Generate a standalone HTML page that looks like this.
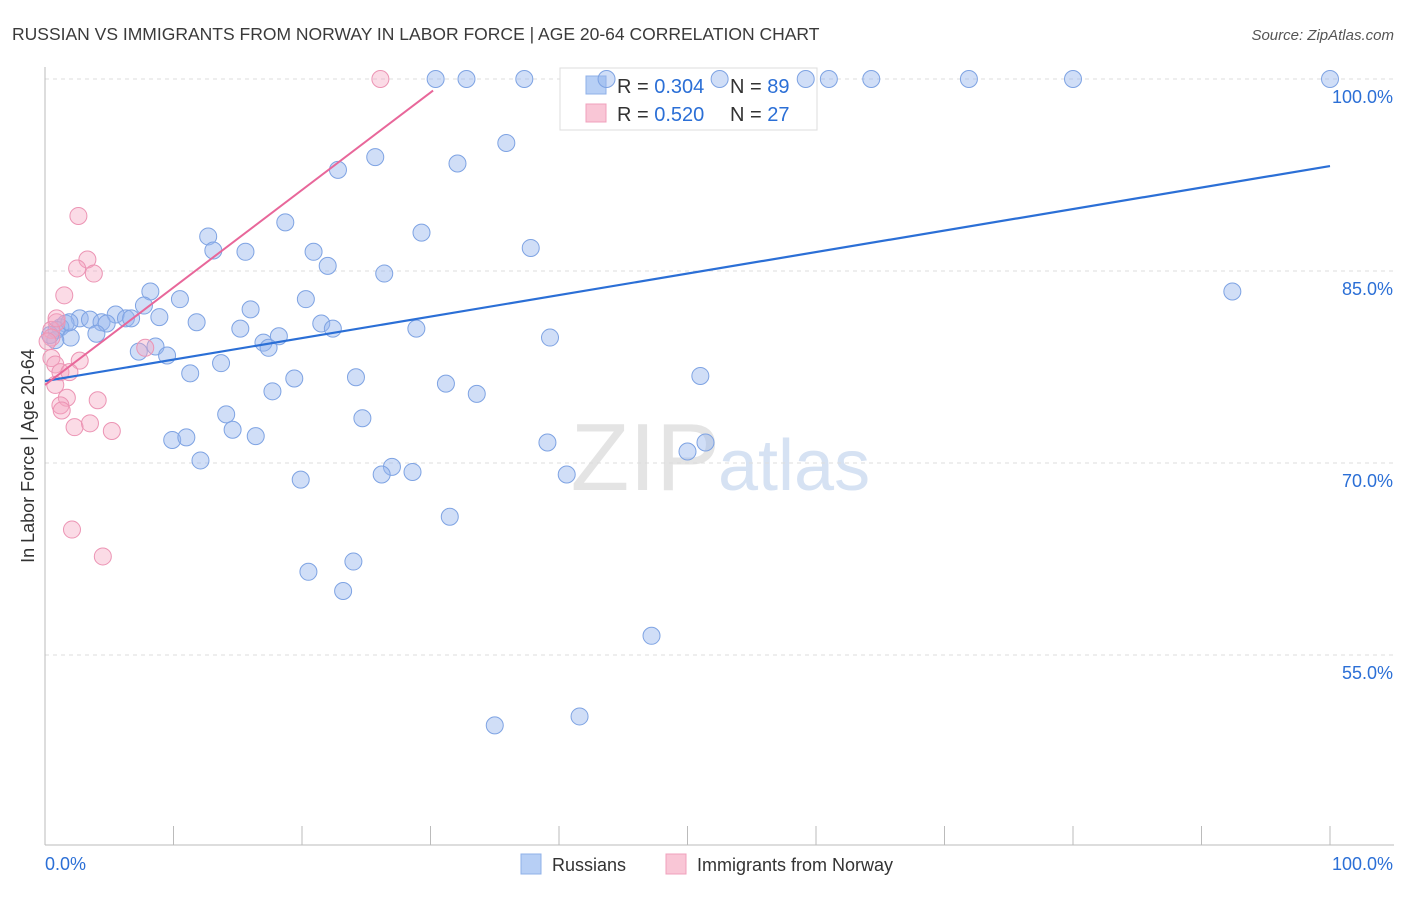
<!DOCTYPE html>
<html><head><meta charset="utf-8"><style>
body{margin:0;background:#fff;font-family:"Liberation Sans",sans-serif;}
svg text{font-family:"Liberation Sans",sans-serif;}
</style></head><body>
<svg id="c" width="1406" height="892" xmlns="http://www.w3.org/2000/svg">
<text x="12" y="40" font-size="17.5" fill="#3a3a3a">RUSSIAN VS IMMIGRANTS FROM NORWAY IN LABOR FORCE | AGE 20-64 CORRELATION CHART</text>
<text x="1394" y="40" font-size="15" fill="#555" text-anchor="end" font-style="italic">Source: ZipAtlas.com</text>
<text x="720" y="490" font-size="96" fill="#e4e4e4" text-anchor="end" font-family="Liberation Serif">ZIP</text>
<text x="718" y="490" font-size="72" fill="#d6e2f3">atlas</text>
<text x="34" y="456" font-size="18" fill="#333" text-anchor="middle" transform="rotate(-90 34 456)">In Labor Force | Age 20-64</text>
<g id="grid"></g>
<g>
<rect x="560" y="68" width="257" height="62" fill="#fff" stroke="#ddd"/>
<rect x="586" y="76" width="20" height="18" fill="#b7cff5" stroke="#8fb0e8"/>
<rect x="586" y="104" width="20" height="18" fill="#f9c6d6" stroke="#f0a0bc"/>
<text x="617" y="93" font-size="20" fill="#333">R = <tspan fill="#2b6fd6">0.304</tspan></text>
<text x="730" y="93" font-size="20" fill="#333">N = <tspan fill="#2b6fd6">89</tspan></text>
<text x="617" y="121" font-size="20" fill="#333">R = <tspan fill="#2b6fd6">0.520</tspan></text>
<text x="730" y="121" font-size="20" fill="#333">N = <tspan fill="#2b6fd6">27</tspan></text>
</g>
<g id="pts"></g><g id="trend"></g>
<g>
<rect x="521" y="854" width="20" height="20" fill="#b7cff5" stroke="#8fb0e8"/>
<text x="552" y="871" font-size="18" fill="#333">Russians</text>
<rect x="666" y="854" width="20" height="20" fill="#f9c6d6" stroke="#f0a0bc"/>
<text x="697" y="871" font-size="18" fill="#333">Immigrants from Norway</text>
</g>
</svg>
<script>
const yTicks=[100,85,70,55];
const xTickLabels=["0.0%","100.0%"];
const blueX=[30.4,32.8,37.3,43.7,52.5,59.2,61.0,64.3,71.9,80.0,100,35.9,25.7,32.1,22.8,18.7,12.7,13.1,15.6,20.9,29.3,37.8,22.0,26.4,92.4,8.2,10.5,20.3,7.7,16.0,8.9,11.8,5.5,6.3,6.7,2.7,3.5,4.4,4.8,1.6,1.2,0.9,2.0,4.0,15.2,21.5,22.4,28.9,18.2,17.0,17.4,8.6,7.3,9.5,39.3,13.7,11.3,24.2,19.4,31.2,17.7,33.6,51.0,14.1,24.7,14.6,16.4,9.9,11.0,39.1,12.1,50.0,51.4,27.0,26.2,28.6,40.6,19.9,31.5,24.0,20.5,23.2,47.2,41.6,35.0,0.8,0.4,1.9];
const blueY=[100,100,100,100,100,100,100,100,100,100,100,95.0,93.9,93.4,92.9,88.8,87.7,86.6,86.5,86.5,88.0,86.8,85.4,84.8,83.4,83.4,82.8,82.8,82.3,82.0,81.4,81.0,81.6,81.3,81.3,81.3,81.2,81.0,80.9,80.9,80.6,80.4,79.8,80.1,80.5,80.9,80.5,80.5,79.9,79.4,79.0,79.1,78.7,78.4,79.8,77.8,77.0,76.7,76.6,76.2,75.6,75.4,76.8,73.8,73.5,72.6,72.1,71.8,72.0,71.6,70.2,70.9,71.6,69.7,69.1,69.3,69.1,68.7,65.8,62.3,61.5,60.0,56.5,50.2,49.5,79.6,80.0,81.0];
const pinkX=[26.1,2.6,3.3,2.5,3.8,1.5,0.9,0.5,0.5,7.8,2.7,0.5,0.8,1.2,1.9,0.8,1.7,4.1,1.2,1.3,2.3,3.5,5.2,2.1,4.5,0.2,0.9];
const pinkY=[100,89.3,85.9,85.2,84.8,83.1,81.0,80.4,79.8,79.0,78.0,78.2,77.7,77.1,77.1,76.1,75.1,74.9,74.5,74.1,72.8,73.1,72.5,64.8,62.7,79.5,81.3];
const blueTrend=[0,76.4,100,93.2];
const pinkTrend=[0,76.1,30.2,99.1];
const NS="http://www.w3.org/2000/svg";
const sx=v=>45+v*12.85, sy=v=>79+(100-v)*12.8;
function mk(t,a,p){const e=document.createElementNS(NS,t);for(const k in a)e.setAttribute(k,a[k]);p.appendChild(e);return e;}
const g=document.getElementById('grid');
yTicks.forEach(t=>{const l=mk('line',{x1:45,x2:1394,y1:sy(t),y2:sy(t),stroke:'#ddd','stroke-dasharray':'4 4'},g);


const tx=mk('text',{x:1393,y:sy(t)+24,'font-size':18,fill:'#2b6fd6','text-anchor':'end'},g);tx.textContent=t.toFixed(1)+'%';

});
const ax=mk('line',{x1:45,x2:45,y1:67,y2:845,stroke:'#bbb'},g);


const bx=mk('line',{x1:45,x2:1394,y1:845,y2:845,stroke:'#bbb'},g);


for(let i=0;i<=10;i++){const tk=mk('line',{x1:sx(i*10),x2:sx(i*10),y1:826,y2:845,stroke:'#bbb'},g);

}
[[0,'start'],[100,'end']].forEach((d,i)=>{const t=mk('text',{x:d[0]?1393:45,y:870,'font-size':18,fill:'#2b6fd6','text-anchor':d[1]},g);t.textContent=xTickLabels[i];

});
const p=document.getElementById('pts');
blueX.forEach((x,i)=>{const c=mk('circle',{cx:sx(x),cy:sy(blueY[i]),r:8.5,fill:'rgba(150,182,238,0.45)',stroke:'#7ea3e3','stroke-width':1},p);

});
pinkX.forEach((x,i)=>{const c=mk('circle',{cx:sx(x),cy:sy(pinkY[i]),r:8.5,fill:'rgba(245,165,192,0.4)',stroke:'#ec94b4','stroke-width':1},p);

});
const tr=document.getElementById('trend');
const l1=mk('line',{x1:sx(blueTrend[0]),y1:sy(blueTrend[1]),x2:sx(blueTrend[2]),y2:sy(blueTrend[3]),stroke:'#2b6fd6','stroke-width':2.2},tr);


const l2=mk('line',{x1:sx(pinkTrend[0]),y1:sy(pinkTrend[1]),x2:sx(pinkTrend[2]),y2:sy(pinkTrend[3]),stroke:'#e8679a','stroke-width':2},tr);


</script>
</body></html>
